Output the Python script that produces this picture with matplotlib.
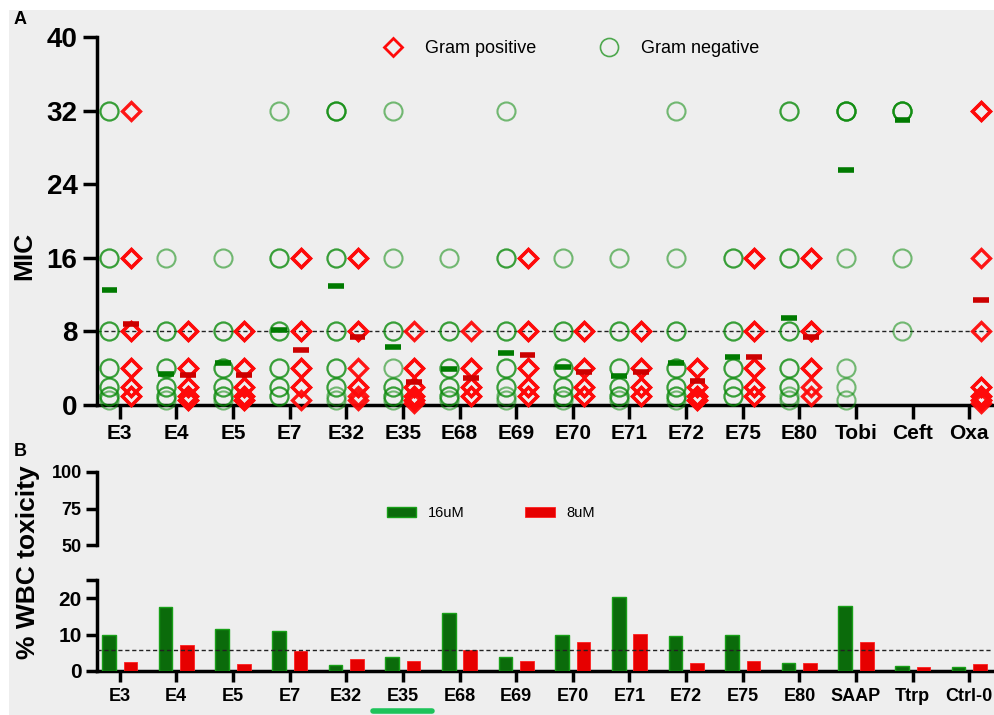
import numpy as np
import matplotlib.pyplot as plt
from matplotlib.patches import Rectangle

plt.rcParams['font.family'] = ['Liberation Sans', 'DejaVu Sans']
plt.rcParams['axes.linewidth'] = 2.5

# ---- panel A data (MIC) ----
mic_names = ["E3", "E4", "E5", "E7", "E32", "E35", "E68", "E69", "E70",
             "E71", "E72", "E75", "E80", "Tobi", "Ceft", "Oxa"]
gram_neg = [
    [32, 32, 16, 16, 8, 8, 4, 4, 2, 2, 1, 1, 0.5],
    [16, 8, 8, 4, 4, 2, 2, 1, 1, 0.5],
    [16, 8, 8, 4, 4, 2, 2, 1, 1, 0.5],
    [32, 16, 16, 8, 8, 4, 4, 2, 2, 1, 1],
    [32, 32, 32, 16, 16, 8, 8, 4, 4, 2, 2, 1, 0.5],
    [32, 16, 8, 8, 4, 2, 2, 1, 1, 0.5],
    [16, 8, 8, 4, 4, 2, 2, 1, 1, 0.5],
    [32, 16, 16, 8, 8, 4, 4, 2, 2, 1, 0.5],
    [16, 8, 8, 4, 4, 2, 2, 1, 1, 0.5],
    [16, 8, 8, 4, 4, 2, 2, 1, 1, 0.5],
    [32, 16, 8, 8, 4, 4, 2, 2, 1, 1, 0.5],
    [16, 16, 8, 8, 4, 4, 2, 2, 1, 1],
    [32, 32, 16, 16, 8, 8, 4, 4, 2, 2, 1, 0.5],
    [32, 32, 32, 32, 16, 4, 2, 0.5],
    [32, 32, 32, 32, 16, 8],
    [],
]
gram_pos = [
    [32, 16, 16, 8, 8, 4, 4, 2, 2, 1, 1],
    [8, 8, 4, 4, 2, 2, 1, 1, 0.5, 0.5],
    [8, 8, 4, 4, 2, 2, 1, 1, 0.5, 0.5],
    [16, 16, 8, 8, 4, 4, 2, 2, 0.5],
    [16, 16, 8, 8, 4, 2, 2, 1, 0.5],
    [8, 4, 4, 2, 2, 1, 1, 0.5, 0.5, 0.25],
    [8, 4, 4, 2, 2, 1, 1],
    [16, 16, 8, 8, 4, 4, 2, 2, 1, 1],
    [8, 8, 4, 4, 2, 2, 1, 1],
    [8, 8, 4, 4, 2, 2, 1, 1],
    [4, 4, 2, 2, 1, 1, 0.5, 0.5],
    [16, 16, 8, 8, 4, 4, 2, 2, 1, 1],
    [16, 16, 8, 8, 8, 4, 4, 2, 1],
    [],
    [],
    [32, 32, 16, 8, 2, 2, 1, 1, 0.5, 0.5, 0.25],
]
neg_mean = [12.5, 3.4, 4.6, 8.2, 12.9, 6.3, 3.9, 5.7, 4.1, 3.2, 4.6, 5.2, 9.5, 25.5, 31.0, np.nan]
pos_mean = [8.8, 3.3, 3.3, 6.0, 7.4, 2.5, 2.9, 5.4, 3.6, 3.6, 2.6, 5.2, 7.4, np.nan, np.nan, 11.4]
mic_cutoff = 8

# ---- panel B data (WBC toxicity) ----
tox_names = ["E3", "E4", "E5", "E7", "E32", "E35", "E68", "E69", "E70",
             "E71", "E72", "E75", "E80", "SAAP", "Ttrp", "Ctrl-0"]
tox_16uM = [9.9, 17.7, 11.5, 11.0, 1.6, 3.9, 15.8, 3.8, 10.0, 20.4, 9.6, 10.0, 2.3, 17.9, 1.5, 1.0]
tox_8uM = [2.4, 7.1, 2.0, 5.5, 3.2, 2.7, 5.8, 2.8, 8.1, 10.2, 2.3, 2.8, 2.3, 7.9, 1.2, 1.8]
tox_cutoff = 5.8

GREEN = "#0a8a0a"
RED = "#ff0a0a"
BG = "#eeeeee"

W, H = 995, 715
fig = plt.figure(figsize=(W / 100, H / 100), dpi=100, facecolor=BG)

# thin white border along the top and left, as in the scanned figure
fig.patches.append(Rectangle((0, 1 - 10 / H), 1, 10 / H, transform=fig.transFigure,
                             facecolor='white', edgecolor='none', zorder=-1))
fig.patches.append(Rectangle((0, 0), 9 / W, 1, transform=fig.transFigure,
                             facecolor='white', edgecolor='none', zorder=-1))


def px_axes(left, top, right, bottom):
    return fig.add_axes([left / W, 1 - bottom / H, (right - left) / W, (bottom - top) / H])


# ================= Panel A =================
ax = px_axes(97, 37, 992, 405)
ax.set_facecolor('none')
off_neg, off_pos = -0.18, 0.2
for i, vals in enumerate(gram_neg):
    if vals:
        ax.plot(np.full(len(vals), i + off_neg), vals, 'o', ms=13, mfc='none',
                mec=GREEN, mew=1.5, alpha=0.55, clip_on=False, zorder=3)
for i, vals in enumerate(gram_pos):
    if vals:
        ax.plot(np.full(len(vals), i + off_pos), vals, 'D', ms=9.5, mfc='none',
                mec=RED, mew=2.4, alpha=0.95, clip_on=False, zorder=4)
xs = np.arange(len(mic_names))
ax.hlines(neg_mean, xs + off_neg - 0.14, xs + off_neg + 0.14, color='#007a00', lw=4, zorder=5)
ax.hlines(pos_mean, xs + off_pos - 0.14, xs + off_pos + 0.14, color='#cc0000', lw=4, zorder=5)
ax.axhline(mic_cutoff, color='#222222', lw=1, ls=(0, (3, 2)), zorder=2)

ax.set_xlim(-0.4, 15.4)
ax.set_ylim(0, 40)
ax.set_yticks([0, 8, 16, 24, 32, 40])
ax.set_xticks(xs)
ax.set_xticklabels(mic_names)
ax.tick_params(axis='y', length=10, width=2.5, labelsize=20, pad=4)
ax.tick_params(axis='x', length=10, width=2.5, labelsize=15, pad=4)
for lab in ax.get_xticklabels() + ax.get_yticklabels():
    lab.set_fontweight('bold')
ax.spines['top'].set_visible(False)
ax.spines['right'].set_visible(False)
ax.set_ylabel("MIC", fontsize=19, fontweight='bold')
ax.yaxis.set_label_coords(-61 / 895, (405 - 256) / 368)

h1, = ax.plot([], [], 'D', ms=9.5, mfc='none', mec=RED, mew=2.0, label="Gram positive")
h2, = ax.plot([], [], 'o', ms=13, mfc='none', mec=GREEN, mew=1.2, alpha=0.7, label="Gram negative")
ax.legend(handles=[h1, h2], loc='upper center', bbox_to_anchor=(0.525, 1.035), ncol=2,
          frameon=False, fontsize=13, columnspacing=3.0, handletextpad=0.8)

# ================= Panel B =================
ax_hi = px_axes(97, 472, 992, 545)
ax_lo = px_axes(97, 580, 992, 671)
for a in (ax_hi, ax_lo):
    a.set_facecolor('none')
    a.spines['top'].set_visible(False)
    a.spines['right'].set_visible(False)
    a.set_xlim(-0.4, 15.4)

xb = np.arange(len(tox_names))
bw = 0.24
ax_lo.bar(xb - 0.19, tox_16uM, bw, color='#0b6b0b', edgecolor='#18a018', lw=1.0, label='16uM', zorder=3)
ax_lo.bar(xb + 0.19, tox_8uM, bw, color='#e60000', edgecolor='#ff2020', lw=0.6, label='8uM', zorder=3)
ax_lo.axhline(tox_cutoff, color='#222222', lw=1, ls=(0, (3, 2)), zorder=4)
ax_lo.set_ylim(0, 25)
ax_lo.set_yticks([0, 10, 20])
ax_lo.set_yticks([25], minor=True)
ax_lo.set_xticks(xb)
ax_lo.set_xticklabels(tox_names)
ax_lo.tick_params(axis='y', which='both', length=8, width=2.5, labelsize=15, pad=3)
ax_lo.tick_params(axis='x', length=8, width=2.5, labelsize=13, pad=4)
for lab in ax_lo.get_xticklabels() + ax_lo.get_yticklabels():
    lab.set_fontweight('bold')

ax_hi.spines['bottom'].set_visible(False)
ax_hi.set_ylim(50, 100)
ax_hi.set_yticks([50, 75, 100])
ax_hi.set_xticks([])
ax_hi.tick_params(axis='y', length=8, width=2.5, labelsize=13, pad=3)
for lab in ax_hi.get_yticklabels():
    lab.set_fontweight('bold')

hb1, hb2 = ax_lo.get_legend_handles_labels()[0]
ax_hi.legend([hb1, hb2], ['16uM', '8uM'], loc='center', bbox_to_anchor=(0.44, 0.44), ncol=2,
             frameon=False, fontsize=10.5, columnspacing=4.2, handlelength=2.0, handleheight=0.7)

fig.text(28 / W, 1 - 562 / H, "% WBC toxicity", rotation=90, ha='center', va='center',
         fontsize=19, fontweight='bold')

# green underline under E35
ax_lo.plot([5 - 0.52, 5 + 0.52], [-0.44, -0.44], transform=ax_lo.get_xaxis_transform(),
           color='#1ec35a', lw=4, solid_capstyle='round', clip_on=False)

fig.text(14 / W, 1 - 19 / H, "A", fontsize=13, fontweight='bold', va='center')
fig.text(14 / W, 1 - 451 / H, "B", fontsize=13, fontweight='bold', va='center')

fig.savefig("out.png", dpi=100, facecolor=BG)
